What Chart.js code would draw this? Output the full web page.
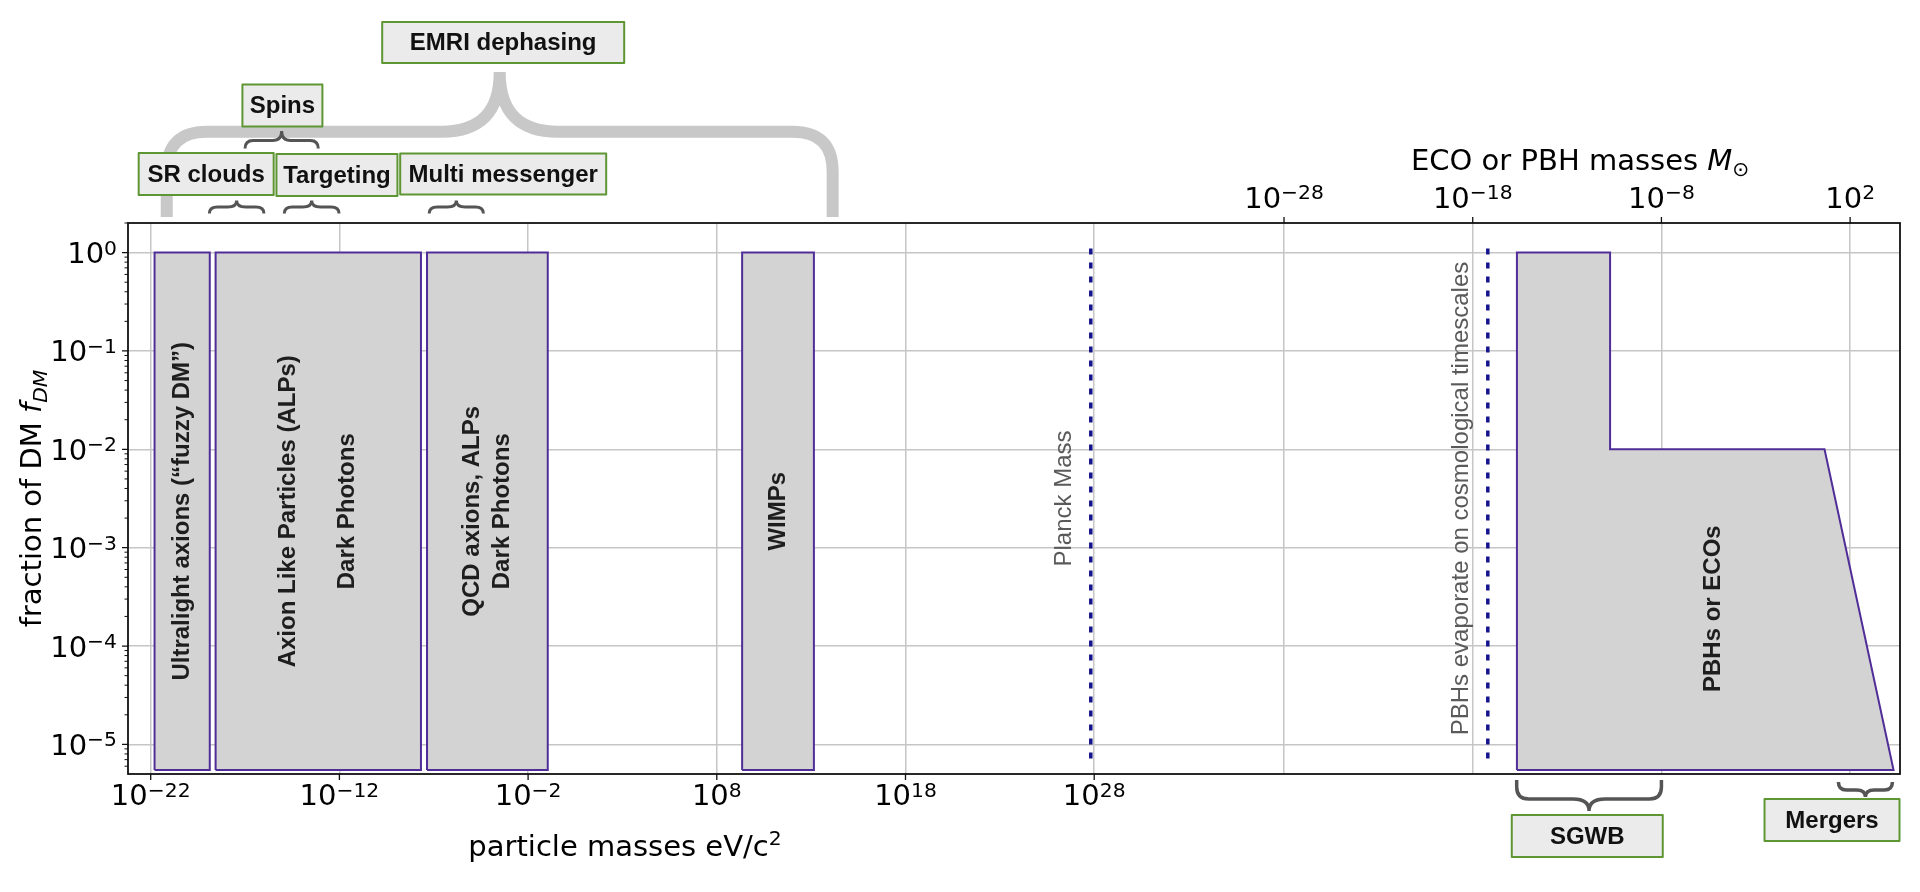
<!DOCTYPE html>
<html><head><meta charset="utf-8">
<script src="https://cdn.jsdelivr.net/npm/chart.js@4.4.0/dist/chart.umd.min.js"></script>
<style>html,body{margin:0;padding:0;background:#fff;overflow:hidden}</style>
</head><body>
<canvas id="c" width="1920" height="892"></canvas>
<script>
// ---------------- data ----------------
const bottomTickExps = [-22, -12, -2, 8, 18, 28];     // particle mass eV/c^2
const topTickExps = [-28, -18, -8, 2];                // ECO/PBH mass in M_sun
const yTickExps = [0, -1, -2, -3, -4, -5];            // fraction of DM

const particleLabels = ['Ultralight axions (\u201Cfuzzy DM\u201D)', 'Axion Like Particles (ALPs)\n\nDark Photons', 'QCD axions, ALPs\nDark Photons', 'WIMPs'];
const particleMassLow  = [1.6e-22, 2.75e-19, 4.4e-8, 2.2e9];
const particleMassHigh = [1.35e-19, 2.1e-8, 0.11, 1.4e13];
const particleFracTop = [1, 1, 1, 1];
const particleFracBottom = [5.5e-6, 5.5e-6, 5.5e-6, 5.5e-6];

const pbhMass = [2.2e-16, 2.2e-16, 1.9e-11, 1.9e-11, 4.4, 2.0e4];      // M_sun
const pbhFrac = [5.5e-6, 1, 1, 0.01, 0.01, 5.5e-6];
const pbhLabel = 'PBHs or ECOs';
const pbhLabelMass = 6e-6, pbhLabelFrac = 2.4e-4;

const planckMassEV = 6.6e27;
const evaporationMassSun = 6.3e-18;
const markerFracRange = [7.2e-6, 1.33];

// annotation ranges (exponents of 10 on the relevant axis)
const topBraceNames = ['EMRI dephasing', 'Spins', 'SR clouds', 'Targeting', 'Multi messenger'];
const topBraceFrom  = [-21.15, -17.0, -18.89, -14.92, -7.24];
const topBraceTo    = [14.14, -13.12, -16.0, -12.02, -4.37];
const topBoxCenter  = [-3.32, -15.02, -19.06, -12.13, -3.32];
const bottomBraceNames = ['SGWB', 'Mergers'];
const bottomBraceFrom = [-15.67, 1.38];
const bottomBraceTo   = [-8.0, 4.24];
const bottomBoxCenter = [-11.93, 1.04];

// ---------------- layout / style ----------------
const X_MIN = Math.pow(10, -23.203), X_MAX = Math.pow(10, 70.703);
const X2_MIN = Math.pow(10, -89.263), X2_MAX = Math.pow(10, 4.643);
const FILL = '#d3d3d3', EDGE = '#512d98', GRID = '#c6c6c6', NAVY = '#14148c';
const AX_FONT = '"DejaVu Sans", sans-serif';
const TX_FONT = '"Liberation Sans", Arial, sans-serif';
const topLayout = {
  'EMRI dephasing':  {w: 242, top: 22, h: 41, big: true},
  'Spins':           {w: 80, top: 84.5, h: 42, yEnd: 148.5, yBar: 140.5, yTip: 131},
  'SR clouds':       {w: 135, top: 153, h: 42, yEnd: 213.5, yBar: 207, yTip: 200.5},
  'Targeting':       {w: 121, top: 154, h: 42, yEnd: 213.5, yBar: 207, yTip: 200.5},
  'Multi messenger': {w: 206, top: 153.5, h: 41, yEnd: 213.5, yBar: 207, yTip: 200.5}
};
const bottomLayout = {
  'SGWB':    {w: 151, top: 815, h: 42, yEnd: 780, yBar: 799, yTip: 811},
  'Mergers': {w: 135, top: 799, h: 42, yEnd: 782, yBar: 790, yTip: 797}
};

// ---------------- datasets ----------------
const datasets = [];
for (let i = 0; i < particleLabels.length; i++) {
  datasets.push({
    data: [{x: particleMassLow[i], y: particleFracTop[i]}, {x: particleMassHigh[i], y: particleFracTop[i]}],
    showLine: true, fill: {value: particleFracBottom[i]}, backgroundColor: FILL,
    borderWidth: 0, borderColor: 'rgba(0,0,0,0)', pointRadius: 0, order: 3, xAxisID: 'x'
  });
  datasets.push({
    data: [{x: particleMassLow[i], y: particleFracBottom[i]}, {x: particleMassLow[i], y: particleFracTop[i]},
           {x: particleMassHigh[i], y: particleFracTop[i]}, {x: particleMassHigh[i], y: particleFracBottom[i]},
           {x: particleMassLow[i], y: particleFracBottom[i]}],
    showLine: true, fill: false, borderColor: EDGE, borderWidth: 2, pointRadius: 0, order: 2, xAxisID: 'x',
    borderJoinStyle: 'miter'
  });
}
datasets.push({
  data: pbhMass.slice(1).map((m, i) => ({x: m, y: pbhFrac[i + 1]})),
  showLine: true, fill: {value: pbhFrac[0]}, backgroundColor: FILL, borderWidth: 0,
  borderColor: 'rgba(0,0,0,0)', pointRadius: 0, order: 3, xAxisID: 'x2'
});
datasets.push({
  data: pbhMass.map((m, i) => ({x: m, y: pbhFrac[i]})).concat([{x: pbhMass[0], y: pbhFrac[0]}]),
  showLine: true, fill: false, borderColor: EDGE, borderWidth: 2, pointRadius: 0, order: 2, xAxisID: 'x2',
  borderJoinStyle: 'miter'
});
datasets.push({
  data: [{x: planckMassEV, y: markerFracRange[0]}, {x: planckMassEV, y: markerFracRange[1]}],
  showLine: true, fill: false, borderColor: NAVY, borderWidth: 3.5, borderDash: [6, 8], pointRadius: 0, order: 1, xAxisID: 'x'
});
datasets.push({
  data: [{x: evaporationMassSun, y: markerFracRange[0]}, {x: evaporationMassSun, y: markerFracRange[1]}],
  showLine: true, fill: false, borderColor: NAVY, borderWidth: 3.5, borderDash: [6, 8], pointRadius: 0, order: 1, xAxisID: 'x2'
});

// ---------------- helpers ----------------
function runsWidth(ctx, runs, size) {
  let w = 0;
  for (const r of runs) { ctx.font = (r.it ? 'italic ' : '') + (size * (r.sc || 1)) + 'px ' + AX_FONT; w += ctx.measureText(r.t).width; }
  return w;
}
function drawRuns(ctx, runs, x, y, size, align) {
  const w = runsWidth(ctx, runs, size);
  let cx = align === 'center' ? x - w / 2 : align === 'right' ? x - w : x;
  ctx.textAlign = 'left'; ctx.textBaseline = 'alphabetic';
  for (const r of runs) {
    ctx.font = (r.it ? 'italic ' : '') + (size * (r.sc || 1)) + 'px ' + AX_FONT;
    ctx.fillText(r.t, cx, y + (r.dy || 0));
    cx += ctx.measureText(r.t).width;
  }
}
function powRuns(e) {
  return [{t: '10'}, {t: (e < 0 ? '\u2212' : '') + Math.abs(e), sc: 0.7, dy: -8.5}];
}
function brace(ctx, x1, x2, xm, yEnd, yBar, yTip, r1, r2) {
  const s = Math.sign(yBar - yEnd);
  const rv = Math.min(r1, Math.abs(yBar - yEnd));
  for (const side of [1, -1]) {
    const xs = side === 1 ? x1 : x2;
    ctx.moveTo(xs, yEnd);
    ctx.lineTo(xs, yBar - s * rv);
    ctx.quadraticCurveTo(xs, yBar, xs + side * r1, yBar);
    ctx.lineTo(xm - side * r2, yBar);
    ctx.quadraticCurveTo(xm, yBar, xm, yTip);
  }
}
function labelBox(ctx, text, cx, top, w, h) {
  ctx.fillStyle = '#ebebeb';
  ctx.fillRect(cx - w / 2, top, w, h);
  ctx.strokeStyle = '#5f9634'; ctx.lineWidth = 2;
  ctx.strokeRect(cx - w / 2, top, w, h);
  ctx.fillStyle = '#111';
  ctx.font = 'bold 24px ' + TX_FONT;
  ctx.textAlign = 'center'; ctx.textBaseline = 'middle';
  ctx.fillText(text, cx, top + h / 2 + 1);
}
function rotText(ctx, lines, cx, cy, font, color, lh) {
  ctx.save();
  ctx.translate(cx, cy); ctx.rotate(-Math.PI / 2);
  ctx.font = font; ctx.fillStyle = color; ctx.textAlign = 'center'; ctx.textBaseline = 'middle';
  const n = lines.length;
  lines.forEach((l, i) => ctx.fillText(l, 0, (i - (n - 1) / 2) * lh));
  ctx.restore();
}

const decor = {
  id: 'decor',
  afterDatasetsDraw(chart) {
    const ctx = chart.ctx, a = chart.chartArea, sx = chart.scales.x, sx2 = chart.scales.x2, sy = chart.scales.y;
    ctx.save();
    ctx.strokeStyle = '#111'; ctx.lineWidth = 1.8;
    ctx.strokeRect(a.left, a.top, a.right - a.left, a.bottom - a.top);
    ctx.lineWidth = 1.3; ctx.beginPath();
    for (const e of bottomTickExps) { const px = sx.getPixelForValue(Math.pow(10, e)); ctx.moveTo(px, a.bottom); ctx.lineTo(px, a.bottom + 6); }
    for (const e of topTickExps) { const px = sx2.getPixelForValue(Math.pow(10, e)); ctx.moveTo(px, a.top); ctx.lineTo(px, a.top - 6); }
    for (const e of yTickExps) { const py = sy.getPixelForValue(Math.pow(10, e)); ctx.moveTo(a.left, py); ctx.lineTo(a.left - 6, py); }
    ctx.stroke();
    ctx.lineWidth = 1; ctx.beginPath();
    for (let e = -6; e <= 0; e++) for (let k = 2; k <= 9; k++) {
      const v = k * Math.pow(10, e);
      if (v < sy.min || v > sy.max) continue;
      const py = sy.getPixelForValue(v); ctx.moveTo(a.left, py); ctx.lineTo(a.left - 3.5, py);
    }
    ctx.stroke();
    ctx.restore();
  },
  afterDraw(chart) {
    const ctx = chart.ctx, a = chart.chartArea, sx = chart.scales.x, sx2 = chart.scales.x2, sy = chart.scales.y;
    ctx.save();
    ctx.fillStyle = '#000';
    for (const e of bottomTickExps) drawRuns(ctx, powRuns(e), sx.getPixelForValue(Math.pow(10, e)), 805, 29, 'center');
    for (const e of topTickExps) drawRuns(ctx, powRuns(e), sx2.getPixelForValue(Math.pow(10, e)), 207.5, 29, 'center');
    for (const e of yTickExps) drawRuns(ctx, powRuns(e), a.left - 11, sy.getPixelForValue(Math.pow(10, e)) + 10.5, 29, 'right');
    drawRuns(ctx, [{t: 'particle masses eV/c'}, {t: '2', sc: 0.7, dy: -11}], 625, 856, 29, 'center');
    drawRuns(ctx, [{t: 'ECO or PBH masses '}, {t: 'M', it: true}, {t: '\u2299', sc: 0.7, dy: 6}], 1411, 170, 29, 'left');
    ctx.save(); ctx.translate(41, (a.top + a.bottom) / 2); ctx.rotate(-Math.PI / 2);
    drawRuns(ctx, [{t: 'fraction of DM '}, {t: 'f', it: true}, {t: 'DM', it: true, sc: 0.7, dy: 6}], 0, 0, 29, 'center');
    ctx.restore();
    for (let i = 0; i < particleLabels.length; i++) {
      const cx = sx.getPixelForValue(Math.sqrt(particleMassLow[i] * particleMassHigh[i]));
      const cy = sy.getPixelForValue(Math.sqrt(particleFracTop[i] * particleFracBottom[i]));
      rotText(ctx, particleLabels[i].split('\n'), cx, cy, 'bold 24px ' + TX_FONT, '#1e1e1e', 29.5);
    }
    rotText(ctx, [pbhLabel], sx2.getPixelForValue(pbhLabelMass), sy.getPixelForValue(pbhLabelFrac), 'bold 24px ' + TX_FONT, '#1e1e1e', 30);
    const midY = (a.top + a.bottom) / 2;
    rotText(ctx, ['Planck Mass'], sx.getPixelForValue(planckMassEV) - 26, midY, '24px ' + TX_FONT, '#5a5a5a', 30);
    rotText(ctx, ['PBHs evaporate on cosmological timescales'], sx2.getPixelForValue(evaporationMassSun) - 26, midY, '24px ' + TX_FONT, '#5a5a5a', 30);

    for (let i = 0; i < topBraceNames.length; i++) {
      const L = topLayout[topBraceNames[i]];
      const x1 = sx.getPixelForValue(Math.pow(10, topBraceFrom[i]));
      const x2 = sx.getPixelForValue(Math.pow(10, topBraceTo[i]));
      const xm = (x1 + x2) / 2;
      ctx.beginPath();
      if (L.big) {
        ctx.strokeStyle = '#c8c8c8'; ctx.lineWidth = 12; ctx.lineCap = 'butt'; ctx.lineJoin = 'round';
        brace(ctx, x1, x2, xm, 217, 131.7, 72, 40, 58);
      } else {
        ctx.strokeStyle = '#555'; ctx.lineWidth = 3; ctx.lineCap = 'butt'; ctx.lineJoin = 'round';
        brace(ctx, x1, x2, xm, L.yEnd, L.yBar, L.yTip, 8, 9);
      }
      ctx.stroke();
    }
    for (let i = 0; i < topBraceNames.length; i++) {
      const L = topLayout[topBraceNames[i]];
      labelBox(ctx, topBraceNames[i], sx.getPixelForValue(Math.pow(10, topBoxCenter[i])), L.top, L.w, L.h);
    }
    for (let i = 0; i < bottomBraceNames.length; i++) {
      const L = bottomLayout[bottomBraceNames[i]];
      const x1 = sx2.getPixelForValue(Math.pow(10, bottomBraceFrom[i]));
      const x2 = sx2.getPixelForValue(Math.pow(10, bottomBraceTo[i]));
      ctx.beginPath(); ctx.strokeStyle = '#555'; ctx.lineWidth = 3.5; ctx.lineCap = 'butt';
      brace(ctx, x1, x2, (x1 + x2) / 2, L.yEnd, L.yBar, L.yTip, i === 0 ? 12 : 8, i === 0 ? 16 : 9);
      ctx.stroke();
      labelBox(ctx, bottomBraceNames[i], sx2.getPixelForValue(Math.pow(10, bottomBoxCenter[i])), L.top, L.w, L.h);
    }
    ctx.restore();
  }
};

const tickCfg = {display: false, autoSkip: false};
const gridCfg = {color: GRID, lineWidth: 1.5, drawTicks: false};
new Chart(document.getElementById('c'), {
  type: 'scatter',
  data: {datasets},
  options: {
    responsive: false, animation: false, devicePixelRatio: 1,
    layout: {padding: {left: 128, right: 20, top: 223, bottom: 118}},
    plugins: {legend: {display: false}, tooltip: {enabled: false}},
    elements: {line: {tension: 0}, point: {radius: 0}},
    scales: {
      x: {type: 'logarithmic', position: 'bottom', min: X_MIN, max: X_MAX, bounds: 'data',
          afterBuildTicks(s) { s.ticks = bottomTickExps.map(e => ({value: Math.pow(10, e)})); },
          afterFit(s) { s.height = 0; }, ticks: tickCfg, grid: gridCfg, border: {display: false}},
      x2: {type: 'logarithmic', position: 'top', min: X2_MIN, max: X2_MAX, bounds: 'data',
          afterBuildTicks(s) { s.ticks = topTickExps.map(e => ({value: Math.pow(10, e)})); },
          afterFit(s) { s.height = 0; }, ticks: tickCfg, grid: gridCfg, border: {display: false}},
      y: {type: 'logarithmic', position: 'left', min: 5e-6, max: 2, bounds: 'data',
          afterBuildTicks(s) { s.ticks = yTickExps.map(e => ({value: Math.pow(10, e)})); },
          afterFit(s) { s.width = 0; }, ticks: tickCfg, grid: gridCfg, border: {display: false}}
    }
  },
  plugins: [decor]
});
</script>
</body></html>
